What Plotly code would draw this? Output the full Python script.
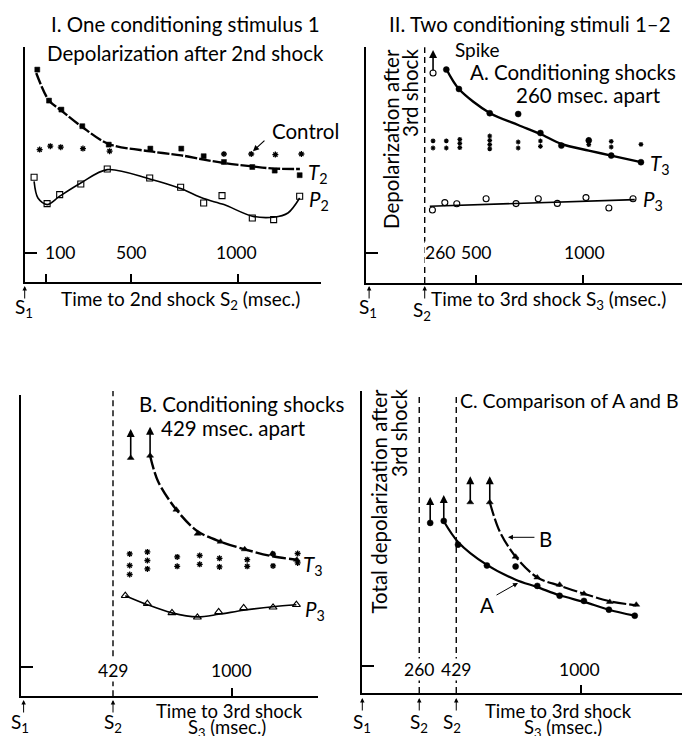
import plotly.graph_objects as go

W, H = 690, 736
FONT = "Lato"
TS = 20.5   # general text size
AS = 19     # axis-title text size

# ---------------- data ----------------
# Panel I: one conditioning stimulus
p1_t2_x = [59, 114, 172, 270, 394, 589, 734, 839, 934, 1067, 1172, 1289]
p1_t2_y = [9.17, 7.62, 7.17, 6.34, 5.42, 5.22, 5.22, 4.84, 4.55, 4.30, 4.12, 3.89]
p1_t2_curve_x = [54, 114, 172, 270, 394, 589, 734, 839, 934, 1067, 1172, 1290]
p1_t2_curve_y = [9.0, 7.62, 7.12, 6.3, 5.45, 5.08, 4.88, 4.67, 4.5, 4.33, 4.22, 4.2]
p1_ctrl_x = [70, 120, 169, 273, 398, 934, 1062, 1175, 1297]
p1_ctrl_y = [5.17, 5.34, 5.29, 5.22, 5.09, 4.95, 4.95, 4.92, 4.95]
p1_p2_x = [44, 105, 164, 263, 387, 586, 731, 839, 925, 1067, 1167, 1289]
p1_p2_y = [3.79, 2.47, 2.92, 3.45, 4.2, 3.75, 3.29, 2.5, 2.87, 1.75, 1.67, 2.84]
p1_p2_curve_x = [44, 62, 105, 164, 263, 387, 586, 731, 839, 934, 1067, 1167, 1234, 1289]
p1_p2_curve_y = [3.58, 2.75, 2.42, 2.84, 3.5, 4.17, 3.7, 3.22, 2.72, 2.42, 1.84, 1.79, 2.0, 2.75]
p1_ticks = [100, 500, 1000]
p1_tick_text = ["100", "500", "1000"]

# Panel II A: conditioning shocks 260 msec apart
p2_t3_x = [361, 420, 564, 697, 801, 899, 1027, 1132, 1271]
p2_t3_y = [9.17, 8.2, 6.99, 6.95, 6.0, 5.37, 5.63, 4.87, 4.54]
p2_t3_curve_x = [361, 420, 564, 697, 801, 899, 1027, 1132, 1271]
p2_t3_curve_y = [9.2, 8.2, 7.0, 6.4, 5.95, 5.45, 5.12, 4.87, 4.54]
p2_spike_x = [299, 361]
p2_spike_y = [9.0, 9.17]
p2_spike_open_x = [299]
p2_spike_open_y = [9.0]
p2_ctrl_x = [299, 299, 361, 361, 424, 424, 424, 564, 564, 564, 564,
             697, 697, 801, 801, 1027, 1027, 1132, 1132, 1271]
p2_ctrl_y = [5.61, 5.25, 5.61, 5.25, 5.68, 5.48, 5.27, 5.85, 5.63, 5.42, 5.21,
             5.55, 5.25, 5.6, 5.33, 5.67, 5.42, 5.58, 5.3, 5.43]
p2_p3_x = [296, 354, 410, 547, 687, 791, 880, 1014, 1121, 1234]
p2_p3_y = [2.15, 2.52, 2.46, 2.71, 2.47, 2.71, 2.48, 2.77, 2.25, 2.71]
p2_p3_line_x = [284, 1242]
p2_p3_line_y = [2.34, 2.67]
p2_s2 = 260
p2_ticks = [500, 1000]
p2_label_vals = [260, 500, 1000]
p2_label_text = ["260", "500", "1000"]

# Panel II B: conditioning shocks 429 msec apart
p3_t3_x = [607, 733, 835, 945, 1061, 1194, 1311]
p3_t3_y = [10.58, 7.88, 6.68, 6.28, 5.9, 5.68, 5.38]
p3_t3_curve_x = [607, 645, 733, 835, 945, 1061, 1194, 1311]
p3_t3_curve_y = [10.58, 9.3, 7.88, 6.8, 6.28, 5.9, 5.55, 5.38]
p3_spike_x = [514, 607]
p3_spike_y = [10.47, 10.58]
p3_ctrl_x = [509, 509, 509, 594, 594, 594, 737, 737, 845, 845,
             940, 940, 1073, 1073, 1197, 1197, 1315, 1315]
p3_ctrl_y = [5.67, 5.09, 4.64, 5.77, 5.34, 4.92, 5.52, 5.05, 5.59, 5.15,
             5.45, 5.02, 5.38, 5.05, 5.67, 5.07, 5.69, 5.22]
p3_p3_x = [488, 594, 712, 834, 936, 1056, 1197, 1309]
p3_p3_y = [3.58, 3.18, 2.72, 2.5, 2.77, 2.97, 3.0, 3.13]
p3_p3_curve_y = [3.58, 3.13, 2.72, 2.52, 2.65, 2.85, 3.03, 3.13]
p3_s2 = 429
p3_ticks = [1000]
p3_label_vals = [429, 1000]
p3_label_text = ["429", "1000"]

# Panel II C: comparison of A and B (total depolarization)
p4_a_x = [310, 372, 437, 569, 700, 799, 901, 1012, 1126, 1244]
p4_a_y = [7.14, 7.24, 6.05, 5.01, 4.96, 3.99, 3.5, 3.24, 2.8, 2.5]
p4_a_curve_x = [372, 437, 569, 700, 799, 901, 1012, 1126, 1244]
p4_a_curve_y = [7.22, 6.19, 5.04, 4.3, 3.93, 3.52, 3.19, 2.8, 2.5]
p4_b_x = [493, 582, 700, 799, 901, 1012, 1130, 1251]
p4_b_y = [8.17, 8.17, 5.45, 4.41, 4.05, 3.6, 3.19, 3.05]
p4_b_curve_x = [582, 627, 700, 799, 901, 1012, 1130, 1251]
p4_b_curve_y = [8.17, 6.72, 5.45, 4.41, 4.0, 3.6, 3.22, 3.02]
p4_spike_x = [310, 372, 493, 582]
p4_spike_y = [7.14, 7.24, 8.17, 8.17]
p4_s2 = [260, 429]
p4_ticks = [1000]
p4_label_vals = [260, 429, 1000]
p4_label_text = ["260", "429", "1000"]


# ---------------- helpers ----------------
def fx(px):
    return px / W


def fy(py):
    return 1 - py / H


fig = go.Figure()

# axis geometry (pixel boxes) and ranges
panels = {
    1: dict(xd=(16.7, 313), yd=(39, 274), xr=(0, 1389), yr=(-1.45, 10.3), ticks=p1_ticks),
    2: dict(xd=(358.3, 680), yd=(39.3, 275), xr=(-13.1, 1491), yr=(-1.5, 10.285), ticks=p2_ticks),
    3: dict(xd=(12.7, 310), yd=(386.7, 688.3), xr=(-13.9, 1412.7), yr=(-1.45, 13.63), ticks=p3_ticks),
    4: dict(xd=(354.3, 678), yd=(383, 685), xr=(0, 1478), yr=(-1.365, 13.735), ticks=p4_ticks),
}

layout = dict(
    width=W, height=H, margin=dict(l=0, r=0, t=0, b=0),
    paper_bgcolor="white", plot_bgcolor="rgba(0,0,0,0)",
    showlegend=False, font=dict(family=FONT, size=TS, color="black"),
)
for i, p in panels.items():
    sx = "" if i == 1 else str(i)
    layout["xaxis" + sx] = dict(
        domain=[fx(p["xd"][0]), fx(p["xd"][1])], range=list(p["xr"]),
        anchor="y" + sx, showline=True, linecolor="black", linewidth=2,
        showgrid=False, zeroline=False, tickvals=p["ticks"], ticks="inside",
        ticklen=8, tickwidth=1.5, tickcolor="black", showticklabels=False,
    )
    layout["yaxis" + sx] = dict(
        domain=[fy(p["yd"][1]), fy(p["yd"][0])], range=list(p["yr"]),
        anchor="x" + sx, showline=True, linecolor="black", linewidth=2,
        showgrid=False, zeroline=False, tickvals=[0], ticks="inside",
        ticklen=12, tickwidth=1.5, tickcolor="black", showticklabels=False,
    )
fig.update_layout(**layout)


def ax_names(i):
    return ("x", "y") if i == 1 else ("x%d" % i, "y%d" % i)


def markers(i, xs, ys, symbol, size=6, lw=1.2):
    xa, ya = ax_names(i)
    fig.add_trace(go.Scatter(
        x=xs, y=ys, mode="markers", xaxis=xa, yaxis=ya, cliponaxis=False,
        marker=dict(symbol=symbol, size=size, color="black",
                    line=dict(color="black", width=lw)),
        hoverinfo="skip"))


def curve(i, xs, ys, width=2.2, dash="solid", spline=True):
    xa, ya = ax_names(i)
    fig.add_trace(go.Scatter(
        x=xs, y=ys, mode="lines", xaxis=xa, yaxis=ya,
        line=dict(color="black", width=width, dash=dash,
                  shape="spline" if spline else "linear", smoothing=0.9),
        hoverinfo="skip"))


annotations = []


def text(px, py, s, size=TS, xanchor="center", yanchor="middle", angle=0):
    annotations.append(dict(
        x=fx(px), y=fy(py), xref="paper", yref="paper", text=s, showarrow=False,
        xanchor=xanchor, yanchor=yanchor, textangle=angle, borderpad=0,
        font=dict(family=FONT, size=size, color="black")))


def data_arrow(i, x, y, ax, ay, head=2, width=1.2):
    xa, ya = ax_names(i)
    annotations.append(dict(
        x=x, y=y, xref=xa, yref=ya, text="", showarrow=True, ax=ax, ay=ay,
        arrowhead=head, arrowsize=1, arrowwidth=width, arrowcolor="black"))


def s_arrow(i, xval, tip_py, label, label_px, label_py):
    xa, _ = ax_names(i)
    annotations.append(dict(
        x=xval, y=fy(tip_py), xref=xa, yref="paper", text="", showarrow=True,
        ax=0, ay=14, arrowhead=2, arrowsize=0.9, arrowwidth=1, arrowcolor="black"))
    text(label_px, label_py, label, size=AS)


def tick_labels(i, vals, labels, py, shifts):
    xa, _ = ax_names(i)
    for v, t, s in zip(vals, labels, shifts):
        annotations.append(dict(
            x=v, y=fy(py), xref=xa, yref="paper", text=t, showarrow=False,
            xshift=s, xanchor="center", yanchor="middle", bgcolor="white",
            borderpad=0, font=dict(family=FONT, size=17.5, color="black")))


# ---------------- Panel I ----------------
curve(1, p1_t2_curve_x, p1_t2_curve_y, width=2.4, dash="12px,2px")
curve(1, p1_p2_curve_x, p1_p2_curve_y, width=1.6)
markers(1, p1_t2_x, p1_t2_y, "square", size=5, lw=0.5)
markers(1, p1_ctrl_x, p1_ctrl_y, "asterisk-open", size=5, lw=1.3)
markers(1, p1_p2_x, p1_p2_y, "square-open", size=6, lw=1.1)
tick_labels(1, p1_ticks, p1_tick_text, 245, [14, 0, -2])
text(177, 16, "I. One conditioning stimulus 1")
text(177, 45, "Depolarization after 2nd shock")
text(297, 123, "Control")
data_arrow(1, 1070, 5.09, 13, -12)
text(299, 165, "<i>T</i><sub>2</sub>", xanchor="left")
text(300, 192, "<i>P</i><sub>2</sub>", xanchor="left")
text(52, 292, "Time to 2nd shock S<sub>2</sub> (msec.)", size=AS, xanchor="left")
s_arrow(1, 0, 278, "S<sub>1</sub>", 16, 300)

# ---------------- Panel II A ----------------
fig.add_shape(type="line", xref="x2", yref="y2 domain", x0=p2_s2, x1=p2_s2, y0=0, y1=1,
              line=dict(color="black", width=1.4, dash="6px,4px"))
curve(2, p2_t3_curve_x, p2_t3_curve_y, width=2.4)
curve(2, p2_p3_line_x, p2_p3_line_y, width=1.6, spline=False)
markers(2, p2_t3_x, p2_t3_y, "circle", size=6, lw=0.5)
markers(2, p2_spike_open_x, p2_spike_open_y, "circle-open", size=6, lw=1.1)
markers(2, p2_ctrl_x, p2_ctrl_y, "asterisk-open", size=4, lw=1.2)
markers(2, p2_p3_x, p2_p3_y, "circle-open", size=6, lw=1.1)
for sx_, sy_ in zip(p2_spike_x, p2_spike_y):
    data_arrow(2, sx_, sy_ + 1.15, 0, 22, head=2, width=1.6)
tick_labels(2, p2_label_vals, p2_label_text, 245, [15, 0, 2])
text(522, 16, "II. Two conditioning stimuli 1\u20132")
text(383, 40, "Depolarization after", angle=-90, yanchor="top")
text(402, 40, "3rd shock", angle=-90, yanchor="top")
text(446, 42, "Spike", size=19, xanchor="left")
text(565, 64, "A. Conditioning shocks")
text(580, 87, "260 msec. apart")
text(641, 157, "<i>T</i><sub>3</sub>", xanchor="left")
text(634, 193, "<i>P</i><sub>3</sub>", xanchor="left")
text(422, 292, "Time to 3rd shock S<sub>3</sub> (msec.)", size=AS, xanchor="left")
s_arrow(2, 0, 278, "S<sub>1</sub>", 360, 300)
s_arrow(2, p2_s2, 278, "S<sub>2</sub>", 414, 303)

# ---------------- Panel II B ----------------
fig.add_shape(type="line", xref="x3", yref="y3 domain", x0=p3_s2, x1=p3_s2, y0=0, y1=1.012,
              line=dict(color="black", width=1.4, dash="6px,4px"))
curve(3, p3_t3_curve_x, p3_t3_curve_y, width=2.4, dash="14px,3px")
curve(3, p3_p3_x, p3_p3_curve_y, width=1.6)
markers(3, p3_t3_x, p3_t3_y, "triangle-up", size=6, lw=0.5)
markers(3, p3_spike_x[:1], p3_spike_y[:1], "triangle-up", size=6, lw=0.5)
markers(3, p3_ctrl_x, p3_ctrl_y, "asterisk-open", size=5, lw=1.3)
markers(3, p3_p3_x, p3_p3_y, "triangle-up-open", size=7, lw=1.1)
for sx_, sy_ in zip(p3_spike_x, p3_spike_y):
    data_arrow(3, sx_, sy_ + 1.45, 0, 29, head=2, width=1.6)
tick_labels(3, p3_label_vals, p3_label_text, 662, [0, 0])
text(130, 396, "B. Conditioning shocks", xanchor="left")
text(225, 420, "429 msec. apart")
text(294, 557, "<i>T</i><sub>3</sub>", xanchor="left")
text(296, 602, "<i>P</i><sub>3</sub>", xanchor="left")
text(222, 703, "Time to 3rd shock", size=18.5)
text(219, 720, "S<sub>3</sub> (msec.)", size=18.5)
s_arrow(3, 0, 692, "S<sub>1</sub>", 12, 715)
s_arrow(3, p3_s2, 692, "S<sub>2</sub>", 105, 715)

# ---------------- Panel II C ----------------
for v in p4_s2:
    fig.add_shape(type="line", xref="x4", yref="y4 domain", x0=v, x1=v, y0=0, y1=0.99,
                  line=dict(color="black", width=1.4, dash="6px,4px"))
curve(4, p4_a_curve_x, p4_a_curve_y, width=2.2)
curve(4, p4_b_curve_x, p4_b_curve_y, width=2.2, dash="14px,3px")
markers(4, p4_a_x, p4_a_y, "circle", size=6, lw=0.5)
markers(4, p4_b_x, p4_b_y, "triangle-up", size=6, lw=0.5)
for sx_, sy_ in zip(p4_spike_x, p4_spike_y):
    data_arrow(4, sx_, sy_ + 1.3, 0, 26, head=2, width=1.6)
data_arrow(4, 665, 6.42, 28, 0, head=2, width=1)
data_arrow(4, 711, 4.14, -23, 13, head=2, width=1)
tick_labels(4, p4_label_vals, p4_label_text, 661, [0, 0, -2])
text(451, 392, "C. Comparison of A and B", size=19.5, xanchor="left")
text(370, 380, "Total depolarization after", angle=-90, yanchor="top")
text(391, 380, "3rd shock", angle=-90, yanchor="top")
text(537, 531, "B")
text(479, 597, "A")
text(550, 703, "Time to 3rd shock", size=18.5)
text(555, 720, "S<sub>3</sub> (msec.)", size=18.5)
s_arrow(4, 0, 690, "S<sub>1</sub>", 354, 715)
s_arrow(4, p4_s2[0], 690, "S<sub>2</sub>", 411, 715)
s_arrow(4, p4_s2[1], 690, "S<sub>2</sub>", 444, 715)

fig.update_layout(annotations=annotations)
fig.write_html("out.html")
